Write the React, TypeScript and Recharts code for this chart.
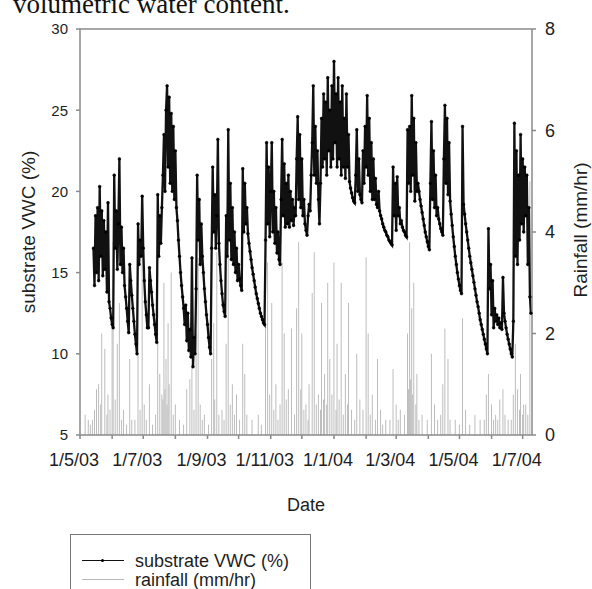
import React from 'react';
import { ComposedChart, Line, Bar, XAxis, YAxis, ReferenceLine } from 'recharts';

const FONT = '"Liberation Sans", Arial, Helvetica, sans-serif';

// day index 0 = 1 May 2003
const dateTicks = [0, 31, 61, 92, 123, 153, 184, 214, 245, 276, 305, 336, 366, 397, 427];
const dateLabels: Record<number, string> = {
  0: '1/5/03', 61: '1/7/03', 123: '1/9/03', 184: '1/11/03',
  245: '1/1/04', 305: '1/3/04', 366: '1/5/04', 427: '1/7/04',
};
const vwcTicks = [5, 10, 15, 20, 25, 30];
const rainTicks = [0, 2, 4, 6, 8];
const lastDay = 436;

// substrate VWC (%) daily readings, starting at day 13
const vwcStartDay = 13;
const vwc = [
  16.5, 14.2, 18.5, 15.0, 19.0, 14.5, 20.3, 16.0, 18.8, 14.8,
  18.2, 15.2, 17.5, 13.8, 19.3, 13.2, 12.8, 12.2, 11.8, 11.6,
  21.0, 16.5, 18.8, 15.2, 18.0, 22.0, 15.5, 17.8, 15.0, 16.5,
  14.2, 13.5, 12.8, 12.0, 11.3, 15.5, 14.5, 13.6, 12.8, 12.0,
  11.2, 10.6, 10.0, 18.0, 15.5, 17.0, 16.0, 19.7, 16.5, 14.5,
  13.2, 12.4, 11.6, 11.6, 15.3, 14.5, 13.8, 13.0, 12.4, 11.8,
  11.2, 10.7, 19.8, 16.0, 18.5, 16.8, 19.0, 21.0, 23.5, 20.0,
  25.0, 26.5, 21.5, 25.8, 20.5, 24.8, 20.0, 24.0, 19.5, 22.5,
  19.0, 18.2, 17.0, 16.0, 15.0, 14.2, 13.5, 12.8, 11.8, 13.0,
  10.8, 12.5, 10.2, 11.5, 9.8, 15.9, 9.2, 11.0, 10.0, 14.0,
  21.0, 17.0, 19.5, 15.5, 18.0, 16.0, 15.0, 14.0, 13.2, 12.4,
  11.8, 11.0, 10.4, 10.0, 16.5, 21.5, 17.5, 19.8, 16.5, 18.5,
  23.2, 16.8, 15.5, 14.5, 13.7, 13.0, 12.6, 12.3, 18.5, 16.0,
  23.8, 17.0, 20.5, 15.8, 19.0, 15.5, 17.5, 15.0, 16.5, 14.5,
  15.5, 14.6, 14.2, 13.9, 21.4, 17.5, 20.5, 18.0, 19.0, 17.4,
  16.8, 16.3, 15.8, 15.3, 14.9, 14.5, 14.1, 13.7, 13.4, 13.1,
  12.8, 12.5, 12.3, 12.1, 11.9, 11.8, 17.0, 23.0, 18.0, 21.5,
  17.2, 20.0, 23.0, 17.5, 20.0, 16.8, 19.0, 16.2, 17.5, 15.8,
  15.5, 19.5, 23.2, 18.5, 21.7, 17.8, 20.5, 18.0, 21.0, 17.8,
  20.0, 18.2, 19.5, 17.9, 19.0, 18.5, 22.0, 24.6, 19.5, 23.5,
  19.0, 22.0, 18.5, 19.5, 18.0, 17.6, 17.3, 18.5, 19.2, 18.8,
  21.0, 23.0, 26.5, 21.0, 24.0, 20.5, 22.5, 19.5, 18.0, 20.5,
  24.5, 21.5, 26.0, 22.0, 25.5, 21.0, 27.0, 22.5, 25.0, 21.5,
  26.5, 22.0, 28.0, 23.0, 26.0, 21.5, 27.0, 22.0, 25.5, 21.0,
  26.5, 21.5, 24.5, 20.8, 26.0, 21.5, 23.5, 20.6, 20.2, 19.9,
  19.6, 19.4, 19.3, 21.0, 23.8, 20.0, 22.0, 19.8, 19.5, 19.3,
  22.5, 20.5, 24.0, 21.5, 25.9, 21.0, 24.5, 20.0, 23.0, 19.5,
  22.0, 19.5, 20.8, 19.2, 19.0, 20.0, 18.8, 18.5, 18.3, 18.0,
  17.8, 17.6, 17.5, 17.3, 17.2, 17.0, 16.9, 16.8, 16.7, 21.5,
  18.5, 20.5, 17.6, 20.9, 18.5, 19.0, 18.0, 18.2, 17.8, 17.6,
  17.5, 17.3, 17.2, 23.8, 20.5, 24.0, 20.0, 25.9, 21.0, 24.5,
  19.4, 23.0, 20.0, 20.5, 20.0, 19.5, 19.1, 18.7, 18.3, 17.9,
  17.5, 17.2, 16.9, 16.6, 16.4, 20.5, 24.3, 19.5, 22.5, 19.0,
  21.0, 18.5, 19.0, 18.3, 18.0, 17.7, 17.5, 17.3, 22.0, 25.3,
  20.5, 24.5, 19.8, 23.0, 19.4, 18.6, 17.9, 17.2, 16.6, 16.0,
  15.5, 15.0, 14.6, 14.2, 13.9, 13.7, 24.0, 19.2, 18.6, 18.0,
  17.5, 17.0, 16.5, 16.0, 15.6, 15.2, 14.8, 14.4, 14.0, 13.6,
  13.2, 12.9, 12.5, 12.1, 11.8, 11.5, 11.2, 10.9, 10.6, 10.3,
  10.0, 17.7, 14.0, 15.5, 12.4, 14.5, 11.6, 12.8, 12.0, 12.4,
  11.8, 12.2, 11.6, 11.9, 11.5, 14.7, 12.5, 12.0, 11.6, 11.2,
  10.9, 10.6, 10.3, 10.0, 9.8, 12.0, 24.2, 16.0, 22.5, 15.5,
  21.0, 17.0, 23.5, 18.0, 22.0, 17.5, 21.5, 18.5, 21.0, 15.5,
  19.0, 13.5, 12.5,
];

// rainfall (mm/hr): [day, value]
const rainfall: [number, number][] = [
  [5, 0.4], [8, 0.3], [10, 0.2], [12, 0.3], [14, 0.5], [16, 0.9], [18, 1.0], [20, 0.6], [21, 2.0],
  [24, 1.7], [26, 0.4], [27, 0.8], [29, 0.5], [31, 2.4], [32, 3.8], [34, 0.7], [36, 1.8], [38, 2.6],
  [40, 0.3], [42, 0.5], [45, 0.2], [48, 1.5], [50, 0.3], [53, 0.3], [56, 1.6], [58, 0.5], [60, 4.0],
  [62, 0.6], [64, 0.3], [67, 1.0], [70, 0.2], [73, 0.4], [75, 2.5], [77, 1.2], [79, 0.8], [80, 0.7],
  [81, 3.0], [82, 0.9], [83, 1.5], [84, 0.6], [85, 2.2], [86, 1.0], [88, 3.2], [90, 0.4], [92, 0.6],
  [96, 0.3], [100, 0.2], [103, 0.9], [106, 1.1], [108, 1.4], [110, 0.5], [112, 2.0], [114, 3.5],
  [116, 0.6], [118, 0.3], [120, 0.4], [124, 0.2], [127, 1.5], [129, 2.2], [130, 0.7], [132, 3.6],
  [134, 0.4], [137, 0.5], [139, 0.3], [141, 1.8], [143, 4.2], [145, 0.6], [147, 1.0], [149, 0.4],
  [151, 0.8], [154, 0.3], [157, 1.8], [159, 1.2], [161, 0.4], [166, 0.3], [172, 0.4], [175, 0.2],
  [179, 2.2], [181, 3.4], [183, 0.8], [185, 2.6], [187, 0.5], [189, 1.0], [191, 0.3], [193, 0.6],
  [195, 3.4], [197, 2.0], [199, 0.7], [201, 0.9], [204, 2.1], [207, 0.4], [209, 2.5], [211, 3.8],
  [213, 0.9], [214, 2.0], [216, 0.5], [218, 0.6], [220, 0.3], [221, 1.0], [224, 2.8], [226, 3.6],
  [228, 0.6], [230, 0.8], [232, 0.5], [233, 2.6], [235, 0.7], [236, 1.2], [238, 0.6], [239, 3.0],
  [241, 1.5], [243, 0.8], [245, 3.4], [247, 0.5], [248, 1.8], [250, 0.7], [252, 3.0], [254, 0.4],
  [256, 1.2], [258, 0.6], [259, 2.6], [262, 0.5], [265, 0.3], [267, 1.6], [270, 0.7], [273, 0.5],
  [276, 3.5], [278, 2.0], [280, 0.4], [282, 0.8], [285, 0.3], [287, 1.5], [290, 0.5], [292, 0.2],
  [295, 0.3], [299, 0.3], [302, 1.3], [305, 0.6], [307, 0.3], [309, 0.5], [313, 0.4], [316, 2.0],
  [317, 0.9], [318, 3.8], [319, 1.1], [320, 2.5], [321, 0.8], [322, 3.0], [324, 0.6], [325, 1.2],
  [327, 0.3], [330, 0.4], [335, 0.3], [339, 1.6], [342, 0.6], [345, 0.3], [348, 0.4], [350, 1.0],
  [352, 2.1], [355, 1.5], [357, 0.3], [362, 0.3], [366, 0.2], [369, 2.3], [372, 0.5], [376, 0.2],
  [381, 0.4], [386, 0.3], [390, 0.3], [392, 0.8], [394, 1.2], [397, 0.6], [399, 0.3], [401, 0.4],
  [403, 0.3], [405, 0.7], [408, 0.9], [410, 0.4], [413, 0.3], [416, 0.3], [418, 0.8], [420, 1.8],
  [422, 0.9], [424, 0.5], [425, 1.2], [427, 0.4], [428, 0.6], [430, 0.6], [432, 0.4], [434, 5.0],
];

const rainByDay = new Map<number, number>(rainfall);
const data = Array.from({ length: lastDay + 1 }, (_, day) => ({
  day,
  vwc: day >= vwcStartDay && day - vwcStartDay < vwc.length ? vwc[day - vwcStartDay] : null,
  rain: rainByDay.has(day) ? rainByDay.get(day) : null,
}));

const AXIS = '#8a8a8a';
const TEXT = '#1e1e1e';

export default function App() {
  return (
    <div style={{ position: 'absolute', left: 0, top: 0, width: 592, height: 589, background: '#fff', overflow: 'hidden', fontFamily: FONT }}>
      <div style={{ position: 'absolute', left: 13, top: -9, fontFamily: '"Liberation Serif", "Times New Roman", serif', fontSize: 27, lineHeight: '27px', color: '#111', whiteSpace: 'nowrap' }}>
        volumetric water content.
      </div>
      <ComposedChart
        width={592}
        height={589}
        data={data}
        margin={{ top: 29, right: 0, bottom: 124, left: 0 }}
        style={{ position: 'absolute', left: 0, top: 0 }}
      >
        <XAxis
          dataKey="day"
          type="number"
          domain={[0, lastDay]}
          ticks={dateTicks}
          interval={0}
          tickFormatter={(v: number) => dateLabels[v] ?? ''}
          height={30}
          tickSize={4}
          tickMargin={14}
          stroke={AXIS}
          strokeWidth={1.5}
          tick={{ fontSize: 18, fill: TEXT, fontFamily: FONT, dx: -6 }}
        />
        <YAxis
          yAxisId="left"
          orientation="left"
          width={80}
          domain={[5, 30]}
          ticks={vwcTicks}
          interval={0}
          tickSize={4}
          tickMargin={8}
          stroke={AXIS}
          strokeWidth={1.5}
          tick={{ fontSize: 15, fill: TEXT, fontFamily: FONT }}
        />
        <YAxis
          yAxisId="right"
          orientation="right"
          width={60}
          domain={[0, 8]}
          ticks={rainTicks}
          interval={0}
          tickSize={4}
          tickMargin={9}
          stroke={AXIS}
          strokeWidth={1.5}
          tick={{ fontSize: 18, fill: TEXT, fontFamily: FONT }}
        />
        <ReferenceLine yAxisId="left" y={30} stroke={AXIS} strokeWidth={1.5} />
        <Bar yAxisId="right" dataKey="rain" fill="#b8b8b8" barSize={1.3} isAnimationActive={false} />
        <Line
          yAxisId="left"
          dataKey="vwc"
          type="linear"
          stroke="#111"
          strokeWidth={2.3}
          dot={{ r: 1.4, fill: '#000', stroke: '#000', strokeWidth: 0.5 }}
          isAnimationActive={false}
          connectNulls={false}
        />
      </ComposedChart>

      <div style={{ position: 'absolute', left: 28, top: 232, transform: 'translate(-50%, -50%) rotate(-90deg)', fontSize: 19, color: TEXT, whiteSpace: 'nowrap', lineHeight: 1 }}>
        substrate VWC (%)
      </div>
      <div style={{ position: 'absolute', left: 580, top: 230, transform: 'translate(-50%, -50%) rotate(-90deg)', fontSize: 19, color: TEXT, whiteSpace: 'nowrap', lineHeight: 1 }}>
        Rainfall (mm/hr)
      </div>
      <div style={{ position: 'absolute', left: 306, top: 505, transform: 'translate(-50%, -50%)', fontSize: 18, color: TEXT, whiteSpace: 'nowrap', lineHeight: 1 }}>
        Date
      </div>

      <div style={{ position: 'absolute', left: 70, top: 534, width: 241, height: 70, border: '1px solid #777', boxSizing: 'border-box', background: '#fff' }}>
        <div style={{ position: 'absolute', left: 11, top: 25, width: 42, borderTop: '1.2px solid #111' }} />
        <div style={{ position: 'absolute', left: 30, top: 24, width: 3, height: 3, borderRadius: 2, background: '#000' }} />
        <div style={{ position: 'absolute', left: 64, top: 17, fontSize: 18, lineHeight: 1, color: TEXT, whiteSpace: 'nowrap' }}>substrate VWC (%)</div>
        <div style={{ position: 'absolute', left: 11, top: 44, width: 42, borderTop: '1.2px solid #b8b8b8' }} />
        <div style={{ position: 'absolute', left: 64, top: 36, fontSize: 18, lineHeight: 1, color: TEXT, whiteSpace: 'nowrap' }}>rainfall (mm/hr)</div>
      </div>
    </div>
  );
}
